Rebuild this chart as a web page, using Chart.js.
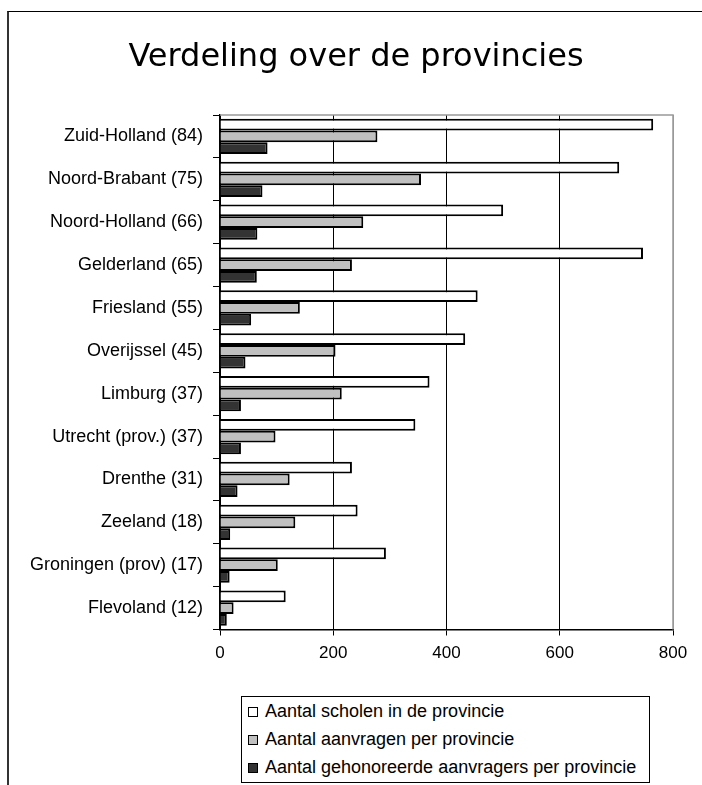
<!DOCTYPE html>
<html>
<head>
<meta charset="utf-8">
<script src="https://cdn.jsdelivr.net/npm/chart.js@4"></script>
<style>
    body { margin: 0; background: #fff; width: 702px; height: 785px; overflow: hidden; position: relative; font-family: "Liberation Sans", Arial, sans-serif; }
    #frame { position: absolute; left: 7px; top: 11px; width: 800px; height: 900px; border-left: 2px solid #333; border-top: 1px solid #000; }
    #chartWrap { position: absolute; left: 0; top: 0; width: 712px; height: 690px; }
    #legend { position: absolute; left: 241px; top: 696px; width: 409px; height: 87px; border: 1px solid #000; box-sizing: border-box; }
    .item { position: absolute; left: 6px; height: 20px; line-height: 20px; font-size: 18px; color: #000; white-space: nowrap; }
    .box { display: inline-block; width: 8px; height: 8px; border: 1.5px solid #000; margin-right: 7px; vertical-align: 0px; }
</style>
</head>
<body>
<div id="frame"></div>
<div id="chartWrap"><canvas id="chart"></canvas></div>
<div id="legend"></div>
<script>
// data
const provinces = ['Zuid-Holland (84)', 'Noord-Brabant (75)', 'Noord-Holland (66)', 'Gelderland (65)',
    'Friesland (55)', 'Overijssel (45)', 'Limburg (37)', 'Utrecht (prov.) (37)', 'Drenthe (31)',
    'Zeeland (18)', 'Groningen (prov) (17)', 'Flevoland (12)'];
const scholen = [765, 705, 500, 747, 455, 433, 370, 345, 233, 243, 293, 116];
const aanvragen = [278, 355, 253, 233, 141, 204, 215, 98, 123, 133, 102, 24];
const gehonoreerd = [84, 75, 66, 65, 55, 45, 37, 37, 31, 18, 17, 12];
const xTicks = [0, 200, 400, 600, 800];
const seriesNames = ['Aantal scholen in de provincie', 'Aantal aanvragen per provincie', 'Aantal gehonoreerde aanvragers per provincie'];
const seriesColors = ['#ffffff', '#c0c0c0', '#333333'];

const font = "'Liberation Sans', Arial, sans-serif";

// gray frame around the plot (top and right edge)
const plotFrame = {
    id: 'plotFrame',
    beforeDatasetsDraw(chart) {
        const { ctx, chartArea: a } = chart;
        ctx.save();
        ctx.strokeStyle = '#999';
        ctx.lineWidth = 1.5;
        ctx.beginPath();
        ctx.moveTo(a.left, a.top);
        ctx.lineTo(a.right, a.top);
        ctx.lineTo(a.right, a.bottom);
        ctx.stroke();
        ctx.restore();
    }
};

const datasets = [scholen, aanvragen, gehonoreerd].map((vals, i) => ({
    label: seriesNames[i],
    data: vals,
    backgroundColor: seriesColors[i],
    borderColor: '#000',
    borderWidth: 2,
    borderSkipped: 'start',
    categoryPercentage: 0.82,
    barPercentage: 1.0
}));

const chart = new Chart(document.getElementById('chart'), {
    type: 'bar',
    data: { labels: provinces, datasets: datasets },
    options: {
        indexAxis: 'y',
        responsive: true,
        maintainAspectRatio: false,
        animation: false,
        layout: { padding: 0 },
        plugins: {
            legend: { display: false },
            tooltip: { enabled: false },
            title: {
                display: true,
                text: 'Verdeling over de provincies',
                color: '#000',
                font: { family: "'DejaVu Sans', sans-serif", size: 32, weight: 'normal', lineHeight: 1.2 },
                padding: { top: 38, bottom: 38.6 }
            }
        },
        scales: {
            x: {
                min: 0,
                max: 800,
                afterBuildTicks: (scale) => { scale.ticks = xTicks.map(v => ({ value: v })); },
                afterFit: (scale) => { scale.height = 60.5; },
                grid: {
                    color: (c) => c.tick && c.tick.value === 800 ? '#999' : '#000',
                    lineWidth: 1,
                    tickColor: '#000',
                    tickLength: 6
                },
                border: { color: '#000', width: 1.5 },
                ticks: { color: '#000', padding: 8, font: { family: font, size: 17 } }
            },
            y: {
                afterFit: (scale) => { scale.width = 220; },
                grid: {
                    drawOnChartArea: false,
                    color: '#000',
                    tickLength: 7,
                    offset: true
                },
                border: { color: '#000', width: 1.5 },
                ticks: { color: '#000', padding: 10, font: { family: font, size: 18 } }
            },
            // empty spacer on the right so the plot ends where the original does
            spacer: {
                type: 'linear',
                axis: 'y',
                position: 'right',
                afterFit: (scale) => { scale.width = 39; },
                grid: { display: false },
                border: { display: false },
                ticks: { display: false }
            }
        }
    },
    plugins: [plotFrame]
});

// legend box below the chart, built from the datasets
const legendEl = document.getElementById('legend');
chart.data.datasets.forEach((ds, i) => {
    const row = document.createElement('div');
    row.className = 'item';
    row.style.top = (4 + i * 28) + 'px';
    const sw = document.createElement('span');
    sw.className = 'box';
    sw.style.background = ds.backgroundColor;
    row.appendChild(sw);
    row.appendChild(document.createTextNode(ds.label));
    legendEl.appendChild(row);
});
</script>
</body>
</html>
